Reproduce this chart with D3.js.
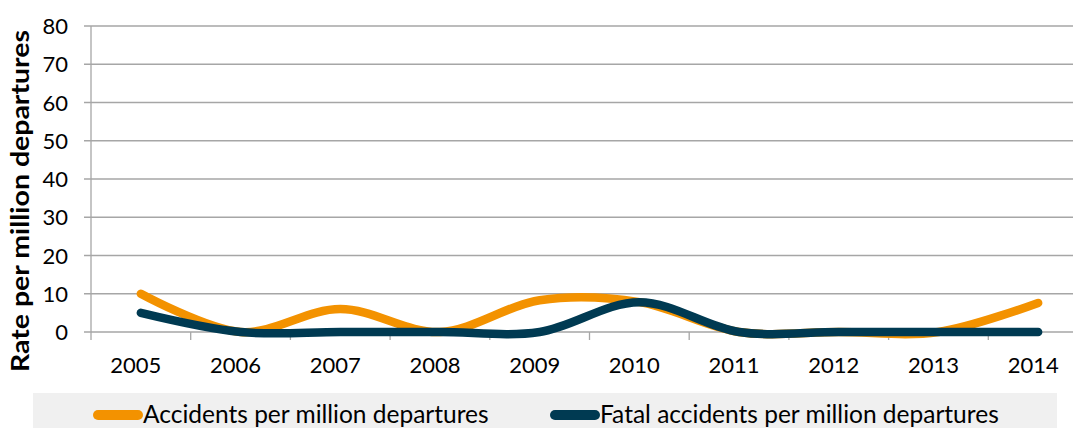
<!DOCTYPE html>
<html>
<head>
<meta charset="utf-8">
<script src="https://cdn.jsdelivr.net/npm/d3@7"></script>
<style>
  body { margin: 0; background: #fff; }
  svg { display: block; font-family: "Lato", "Open Sans", sans-serif; }
</style>
</head>
<body>
<svg id="chart" width="1073" height="428"></svg>
<script>
// values
let years = ["2005", "2006", "2007", "2008", "2009", "2010", "2011", "2012", "2013", "2014"];
let accidents = [10, 0, 6, 0, 8.3, 7.8, 0, 0, 0, 7.6];
let fatal = [5, 0, 0, 0, 0, 7.8, 0, 0, 0, 0];
let y_ticks = [0, 10, 20, 30, 40, 50, 60, 70, 80];
let series_names = ["Accidents per million departures", "Fatal accidents per million departures"];
let series_colors = ["#F39200", "#003A52"];

let svg = d3.select("#chart");
let plot_left = 91, plot_right = 1088, plot_top = 26, plot_bottom = 332;

let x = d3.scaleBand().domain(years).range([plot_left, plot_right]);
let y = d3.scaleLinear().domain([0, 80]).range([plot_bottom, plot_top]);

// grid lines
svg.append("g")
  .selectAll("line")
  .data(y_ticks)
  .enter().append("line")
    .attr("x1", plot_left - 7).attr("x2", plot_right)
    .attr("y1", d => y(d)).attr("y2", d => y(d))
    .attr("stroke", "#A6A6A6").attr("stroke-width", 1.3);

// y axis line
svg.append("line")
  .attr("x1", plot_left).attr("x2", plot_left)
  .attr("y1", plot_top).attr("y2", plot_bottom + 8)
  .attr("stroke", "#A6A6A6").attr("stroke-width", 1.3);

// x ticks at band edges
let edges = years.map(d => x(d)).slice(1).concat([plot_right]);
svg.append("g")
  .selectAll("line")
  .data(edges)
  .enter().append("line")
    .attr("x1", d => d).attr("x2", d => d)
    .attr("y1", plot_bottom).attr("y2", plot_bottom + 8)
    .attr("stroke", "#A6A6A6").attr("stroke-width", 1.3);

// y tick labels
svg.append("g")
  .selectAll("text")
  .data(y_ticks)
  .enter().append("text")
    .attr("x", 68).attr("y", d => y(d) + 8)
    .attr("text-anchor", "end")
    .attr("font-size", 22).attr("fill", "#000")
    .text(d => d);

// x tick labels
svg.append("g")
  .selectAll("text")
  .data(years)
  .enter().append("text")
    .attr("x", d => x(d) + x.bandwidth() / 2 - 5).attr("y", 373)
    .attr("text-anchor", "middle")
    .attr("font-size", 22).attr("fill", "#000")
    .text(d => d);

// y axis title
svg.append("text")
  .attr("transform", "translate(29,201) rotate(-90)")
  .attr("text-anchor", "middle")
  .attr("font-size", 24.5).attr("font-weight", "bold")
  .attr("textLength", 342).attr("lengthAdjust", "spacingAndGlyphs")
  .text("Rate per million departures");

// lines
let line = d3.line()
  .x((d, i) => x(years[i]) + x.bandwidth() / 2)
  .y(d => y(d))
  .curve(d3.curveCardinal.tension(0));

[accidents, fatal].forEach((values, i) => {
  svg.append("path")
    .attr("d", line(values))
    .attr("fill", "none")
    .attr("stroke", series_colors[i])
    .attr("stroke-width", 8.5)
    .attr("stroke-linecap", "round")
    .attr("stroke-linejoin", "round");
});

// legend
svg.append("rect")
  .attr("x", 33).attr("y", 393).attr("width", 1024).attr("height", 35)
  .attr("fill", "#F0F0F0");

let legend_x = [93, 550];
series_names.forEach((name, i) => {
  svg.append("line")
    .attr("x1", legend_x[i] + 5).attr("x2", legend_x[i] + 45)
    .attr("y1", 415).attr("y2", 415)
    .attr("stroke", series_colors[i])
    .attr("stroke-width", 10)
    .attr("stroke-linecap", "round");
  svg.append("text")
    .attr("x", legend_x[i] + 50).attr("y", 423)
    .attr("font-size", 24.5)
    .text(name);
});
</script>
</body>
</html>
